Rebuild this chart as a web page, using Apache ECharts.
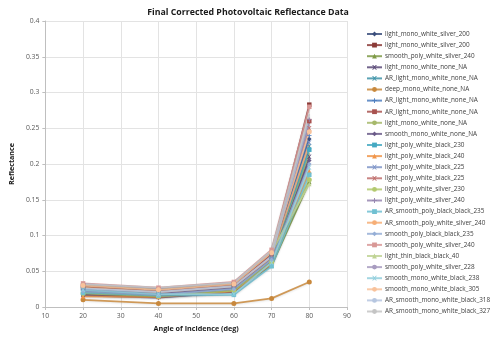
<!DOCTYPE html>
<html>
<head>
<meta charset="utf-8">
<script src="https://cdn.jsdelivr.net/npm/echarts@6/dist/echarts.min.js"></script>
<style>
  html, body { margin: 0; padding: 0; background: #ffffff; }
  #chart { width: 495px; height: 338px; }
</style>
</head>
<body>
<div id="chart"></div>
<script>
// Angles of incidence (deg)
const angles = [20, 40, 60, 70, 80];

// Sample names, in legend order
const sampleNames = [
  'light_mono_white_silver_200',
  'light_mono_white_silver_200',
  'smooth_poly_white_silver_240',
  'light_mono_white_none_NA',
  'AR_light_mono_white_none_NA',
  'deep_mono_white_none_NA',
  'AR_light_mono_white_none_NA',
  'AR_light_mono_white_none_NA',
  'light_mono_white_none_NA',
  'smooth_mono_white_none_NA',
  'light_poly_white_black_230',
  'light_poly_white_black_240',
  'light_poly_white_black_225',
  'light_poly_white_black_225',
  'light_poly_white_silver_230',
  'light_poly_white_silver_240',
  'AR_smooth_poly_black_black_235',
  'AR_smooth_poly_white_silver_240',
  'smooth_poly_black_black_235',
  'smooth_poly_white_silver_240',
  'light_thin_black_black_40',
  'smooth_poly_white_silver_228',
  'smooth_mono_white_black_238',
  'smooth_mono_white_black_305',
  'AR_smooth_mono_white_black_318',
  'AR_smooth_mono_white_black_327'
];

// Corrected reflectance per sample at each angle
const r01 = [0.020, 0.017, 0.025, 0.068, 0.235];
const r02 = [0.030, 0.024, 0.032, 0.075, 0.283];
const r03 = [0.020, 0.016, 0.024, 0.058, 0.175];
const r04 = [0.017, 0.015, 0.022, 0.062, 0.210];
const r05 = [0.025, 0.020, 0.028, 0.070, 0.225];
const r06 = [0.010, 0.005, 0.005, 0.012, 0.035];
const r07 = [0.024, 0.019, 0.027, 0.072, 0.240];
const r08 = [0.028, 0.022, 0.030, 0.074, 0.260];
const r09 = [0.021, 0.017, 0.025, 0.065, 0.215];
const r10 = [0.016, 0.013, 0.021, 0.064, 0.205];
const r11 = [0.026, 0.020, 0.028, 0.069, 0.220];
const r12 = [0.015, 0.014, 0.022, 0.060, 0.190];
const r13 = [0.023, 0.018, 0.026, 0.071, 0.230];
const r14 = [0.029, 0.023, 0.031, 0.073, 0.250];
const r15 = [0.019, 0.015, 0.023, 0.063, 0.178];
const r16 = [0.024, 0.019, 0.027, 0.068, 0.262];
const r17 = [0.020, 0.016, 0.017, 0.057, 0.185];
const r18 = [0.027, 0.021, 0.029, 0.070, 0.228];
const r19 = [0.022, 0.017, 0.025, 0.066, 0.200];
const r20 = [0.033, 0.027, 0.035, 0.080, 0.280];
const r21 = [0.031, 0.025, 0.033, 0.077, 0.172];
const r22 = [0.032, 0.026, 0.034, 0.078, 0.255];
const r23 = [0.024, 0.018, 0.018, 0.062, 0.195];
const r24 = [0.030, 0.024, 0.032, 0.076, 0.245];
const r25 = [0.026, 0.021, 0.029, 0.071, 0.265];
const r26 = [0.032, 0.027, 0.034, 0.079, 0.270];

const reflectance = [r01, r02, r03, r04, r05, r06, r07, r08, r09, r10, r11, r12, r13,
  r14, r15, r16, r17, r18, r19, r20, r21, r22, r23, r24, r25, r26];

// Axis tick settings
const xTicks = { min: 10, max: 90, interval: 10 };
const yTicks = { min: 0, max: 0.4, interval: 0.05 };

const palette = [
  '#3b4f7c', '#8b3a37', '#7e9a46', '#5a4a78', '#3e93a8', '#c8883c',
  '#4f7fc0', '#a8524f', '#a6b86a', '#6a5a88', '#45a9c2', '#f0954a',
  '#7f95c8', '#c06f6d', '#b3c96f', '#9686b0', '#70c0d2', '#f6ae76',
  '#95aed6', '#d89896', '#bfd394', '#a89cc0', '#93cfdd', '#f8c29b',
  '#b6c6e0', '#c4c4c4'
];

// Marker shapes cycle like a spreadsheet's default line-with-markers style
const crossPath = 'path://M0,0L2,0L5,3L8,0L10,0L6,5L10,10L8,10L5,7L2,10L0,10L4,5Z';
const plusPath = 'path://M4,0L6,0L6,4L10,4L10,6L6,6L6,10L4,10L4,6L0,6L0,4L4,4Z';
const dashPath = 'path://M0,4L10,4L10,6L0,6Z';
const markers = ['diamond', 'rect', 'triangle', crossPath, crossPath, 'circle',
  plusPath, dashPath, 'none', 'diamond', 'rect', 'triangle', crossPath, crossPath, 'circle',
  plusPath, dashPath, 'none', 'diamond', 'rect', 'triangle', 'none', crossPath, 'circle',
  'none', 'none'];

const series = reflectance.map((vals, i) => ({
  name: sampleNames[i] + '\u200b'.repeat(i),
  type: 'line',
  data: angles.map((a, j) => [a, vals[j]]),
  symbol: markers[i],
  symbolSize: markers[i] === 'circle' ? 5 : 4.5,
  lineStyle: { width: 1.8, color: palette[i], opacity: 0.85,
    shadowColor: 'rgba(0,0,0,0.12)', shadowBlur: 2, shadowOffsetY: 1 },
  itemStyle: { color: palette[i] },
  emphasis: { disabled: true },
  animation: false
}));

const chart = echarts.init(document.getElementById('chart'), null, { renderer: 'canvas' });
chart.setOption({
  backgroundColor: '#ffffff',
  animation: false,
  title: {
    text: 'Final Corrected Photovoltaic Reflectance Data',
    left: 243,
    textAlign: 'center',
    top: 3,
    textStyle: { fontFamily: 'Open Sans', fontWeight: 'bold', fontSize: 8.8, color: '#1a1a1a' }
  },
  legend: {
    orient: 'vertical',
    left: 361,
    top: 26,
    itemWidth: 15,
    itemHeight: 6,
    itemGap: 5.1,
    data: series.map(s => ({ name: s.name })),
    textStyle: { fontFamily: 'Open Sans', fontSize: 6.4, color: '#404040', padding: [0, 0, 0, -2] },
    formatter: n => n.replace(/\u200b/g, '')
  },
  grid: { left: 35, right: 148, top: 21, bottom: 31, containLabel: false },
  xAxis: {
    type: 'value',
    min: xTicks.min, max: xTicks.max, interval: xTicks.interval,
    name: 'Angle of Incidence (deg)',
    nameLocation: 'middle',
    nameGap: 18,
    nameTextStyle: { fontFamily: 'Open Sans', fontWeight: 'bold', fontSize: 7.2, color: '#1a1a1a' },
    axisLine: { lineStyle: { color: '#bfbfbf' } },
    axisTick: { show: true, length: 3, lineStyle: { color: '#bfbfbf' } },
    axisLabel: { fontFamily: 'Open Sans', fontSize: 6.8, color: '#595959', margin: 6 },
    splitLine: { show: true, lineStyle: { color: '#e3e3e3' } }
  },
  yAxis: {
    type: 'value',
    min: yTicks.min, max: yTicks.max, interval: yTicks.interval,
    name: 'Reflectance',
    nameLocation: 'middle',
    nameGap: 24,
    nameRotate: 90,
    nameTextStyle: { fontFamily: 'Open Sans', fontWeight: 'bold', fontSize: 7.2, color: '#1a1a1a' },
    axisLine: { show: true, lineStyle: { color: '#bfbfbf' } },
    axisTick: { show: true, length: 3, lineStyle: { color: '#bfbfbf' } },
    axisLabel: { fontFamily: 'Open Sans', fontSize: 6.8, color: '#595959', margin: 6 },
    splitLine: { show: true, lineStyle: { color: '#e3e3e3' } }
  },
  series: series
});
</script>
</body>
</html>
